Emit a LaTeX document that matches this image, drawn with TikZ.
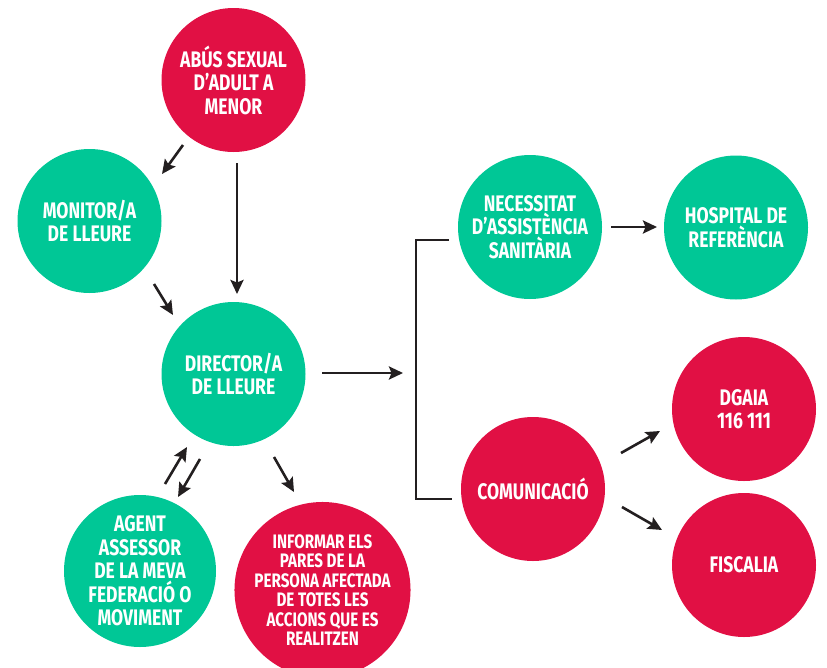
\documentclass[tikz,border=0pt]{standalone}
\usepackage{fontspec}
\setmainfont{Fira Sans}[FakeStretch=0.78]
\usetikzlibrary{arrows.meta,calc}
\definecolor{cred}{RGB}{225,16,68}
\definecolor{cgreen}{RGB}{0,199,150}
\definecolor{cink}{RGB}{35,31,32}
\tikzset{
  bub/.style={circle, inner sep=0pt, minimum size=144pt, text=white, align=center,
    font=\bfseries\fontsize{22.5}{23.5}\selectfont},
  gbub/.style={bub, fill=cgreen},
  rbub/.style={bub, fill=cred},
  arr/.style={draw=cink, line width=2.6pt, -{Stealth[length=14pt,width=13pt,inset=2.5pt]}},
  brk/.style={draw=cink, line width=1.8pt}
}
\begin{document}
\begin{tikzpicture}[x=1pt,y=-1pt]
\useasboundingbox (0,0) rectangle (827,667);
\node[rbub] (abus) at (233.5,80) {ABÚS SEXUAL\\D’ADULT A\\MENOR};
\node[gbub] (monitor) at (89.5,221) {MONITOR/A\\DE LLEURE};
\node[gbub] (director) at (233.5,374) {DIRECTOR/A\\DE LLEURE};
\node[gbub, minimum size=152pt] (agent) at (140,571) {AGENT\\ASSESSOR\\DE LA MEVA\\FEDERACIÓ O\\MOVIMENT};
\node[rbub, minimum size=166pt, font=\bfseries\fontsize{19.5}{19.5}\selectfont] (informar) at (322.5,590) {INFORMAR ELS\\PARES DE LA\\PERSONA AFECTADA\\DE TOTES LES\\ACCIONS QUE ES\\REALITZEN};
\node[gbub] (necessitat) at (530,227) {NECESSITAT\\D’ASSISTÈNCIA\\SANITÀRIA};
\node[gbub] (hospital) at (736,227.5) {HOSPITAL DE\\REFERÈNCIA};
\node[rbub] (comunicacio) at (533,489) {COMUNICACIÓ};
\node[rbub] (dgaia) at (744,409) {DGAIA\\116 111};
\node[rbub] (fiscalia) at (744,565) {FISCALIA};

\coordinate (bm) at ($(director.center)+(169.5,-1)$);
\draw[brk] ($(necessitat.center)+(-81,13)$) -- ($(necessitat.center)+(-114,13)$)
  -- ($(comunicacio.center)+(-117,10)$) -- ($(comunicacio.center)+(-81,10)$);

\draw[arr] ($(abus.center)+(-50.5,65)$) -- ($(monitor.center)+(72.5,-47)$);
\draw[arr] ($(abus.center)+(3.5,83)$) -- ($(director.center)+(3.5,-80)$);
\draw[arr] ($(monitor.center)+(64.5,63)$) -- ($(director.center)+(-60.5,-59)$);
\draw[arr] ($(director.center)+(88.5,-1)$) -- (bm);
\draw[arr] ($(director.center)+(-33.5,85)$) -- ($(agent.center)+(38,-74)$);
\draw[arr] ($(agent.center)+(25,-87)$) -- ($(director.center)+(-46.5,73)$);
\draw[arr] ($(director.center)+(40.5,83)$) -- ($(informar.center)+(-28.5,-98)$);
\draw[arr] ($(necessitat.center)+(81,0)$) -- ($(hospital.center)+(-79,-0.5)$);
\draw[arr] ($(comunicacio.center)+(88,-36)$) -- ($(dgaia.center)+(-84,22)$);
\draw[arr] ($(comunicacio.center)+(89,18)$) -- ($(fiscalia.center)+(-82,-35)$);
\end{tikzpicture}
\end{document}
